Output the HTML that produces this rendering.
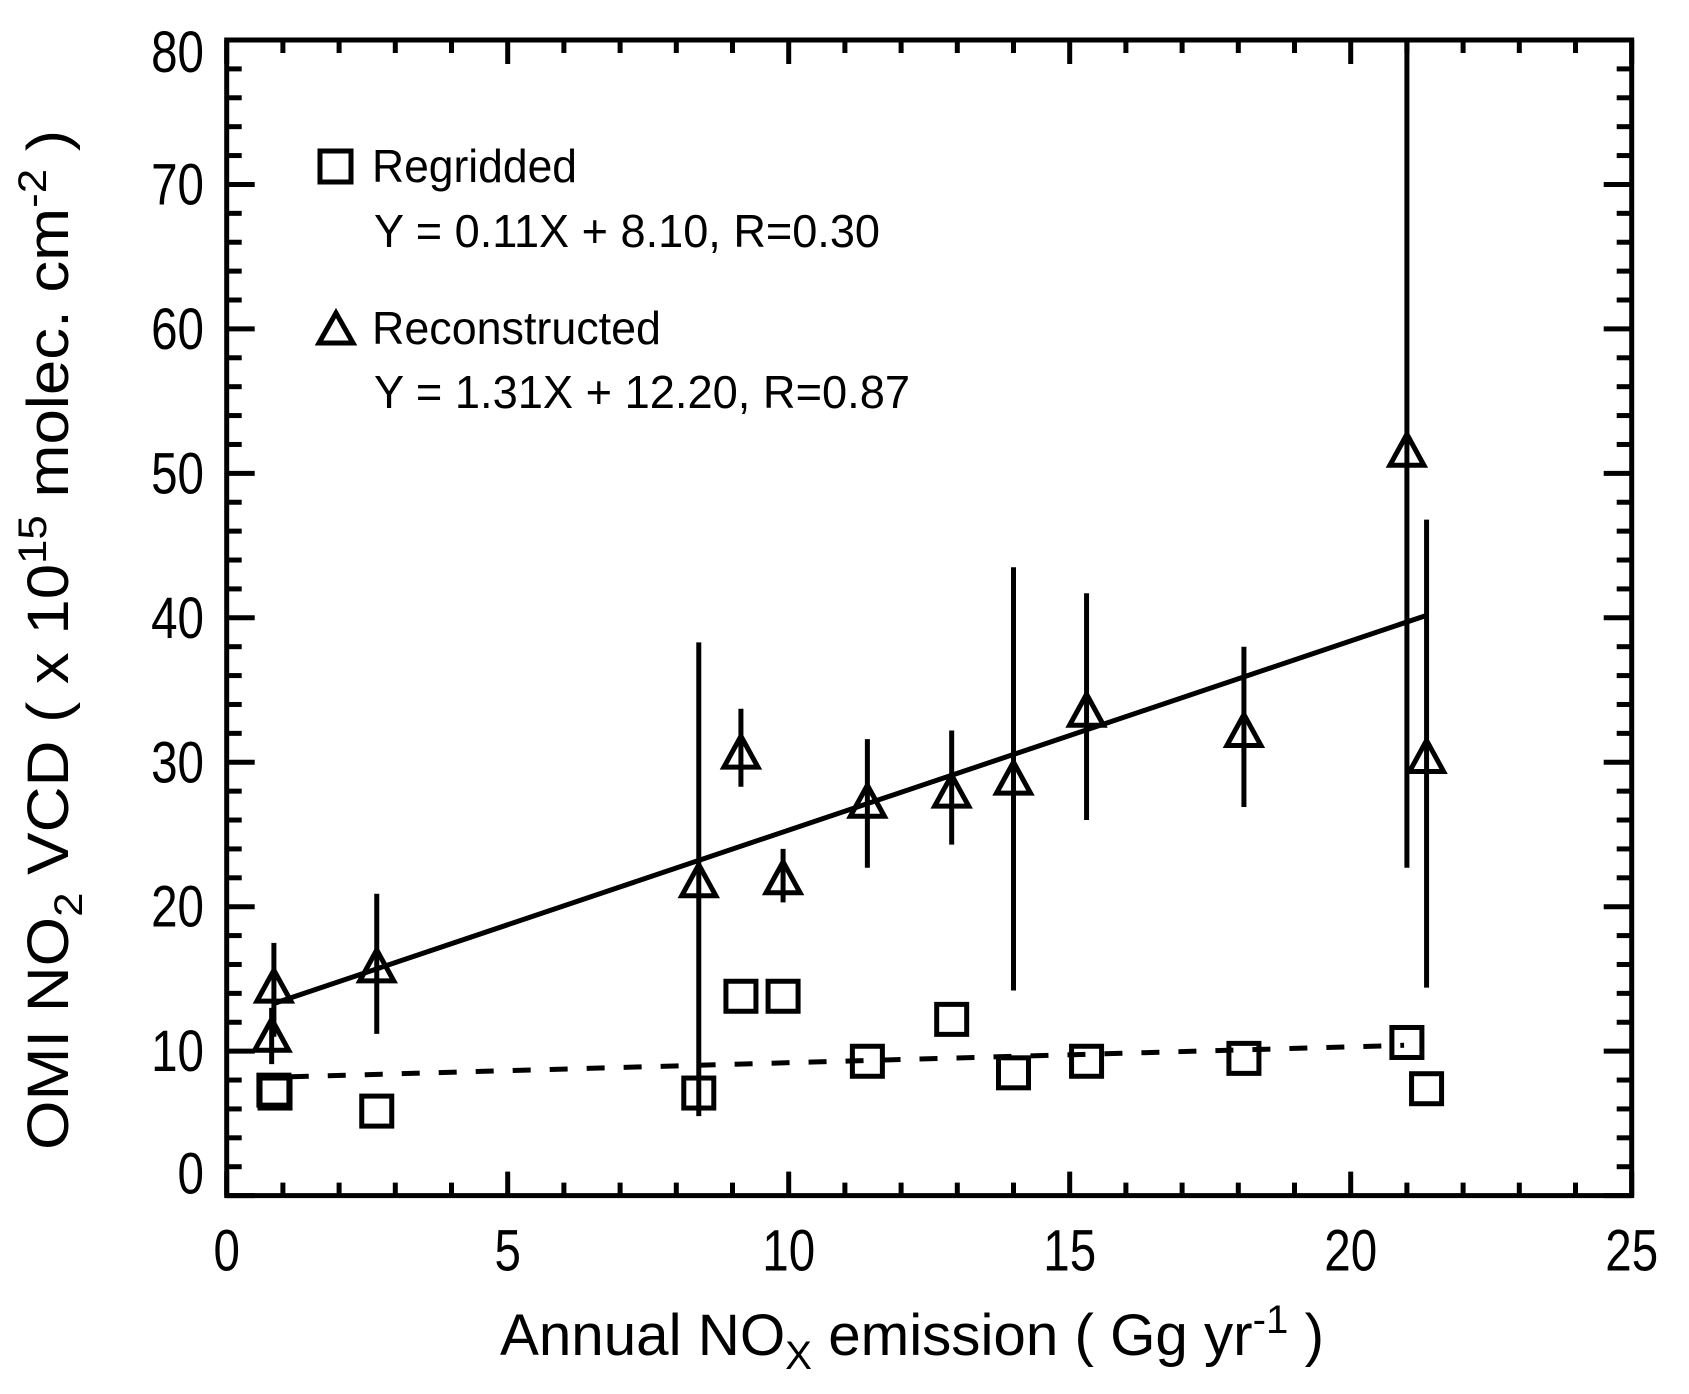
<!DOCTYPE html>
<html><head><meta charset="utf-8"><style>
html,body{margin:0;padding:0;background:#fff;}
svg{display:block;font-family:"Liberation Sans",Arial,sans-serif;}
</style></head><body>
<svg id="chart" width="1689" height="1394" viewBox="0 0 1689 1394">
<g id="grid"></g>
<g id="marks"></g>
<g id="legend">
  <rect x="320" y="151" width="31" height="31" fill="none" stroke="#000" stroke-width="5"/>
  <text x="372" y="182" font-size="46" textLength="205" lengthAdjust="spacingAndGlyphs">Regridded</text>
  <text x="374" y="247" font-size="46" textLength="506" lengthAdjust="spacingAndGlyphs">Y = 0.11X + 8.10, R=0.30</text>
  <polygon points="336,313 353,343 319,343" fill="none" stroke="#000" stroke-width="5"/>
  <text x="372" y="344" font-size="46" textLength="289" lengthAdjust="spacingAndGlyphs">Reconstructed</text>
  <text x="374" y="408" font-size="46" textLength="536" lengthAdjust="spacingAndGlyphs">Y = 1.31X + 12.20, R=0.87</text>
</g>
<text transform="translate(68,640) rotate(-90)" text-anchor="middle" font-size="58" textLength="1020" lengthAdjust="spacingAndGlyphs">OMI NO<tspan font-size="40" dy="14">2</tspan><tspan dy="-14"> VCD ( x 10</tspan><tspan font-size="40" dy="-22">15</tspan><tspan dy="22"> molec. cm</tspan><tspan font-size="40" dy="-22">-2</tspan><tspan dy="22"> )</tspan></text>
<text x="912" y="1355" text-anchor="middle" font-size="58" textLength="824" lengthAdjust="spacingAndGlyphs">Annual NO<tspan font-size="40" dy="14">X</tspan><tspan dy="-14"> emission ( Gg yr</tspan><tspan font-size="40" dy="-22">-1</tspan><tspan dy="22"> )</tspan></text>
</svg>
<script>
const xTicks = [0, 5, 10, 15, 20, 25];
const yTicks = [0, 10, 20, 30, 40, 50, 60, 70, 80];
const triX = [0.84, 0.80, 2.67, 8.4, 9.15, 9.9, 11.4, 12.9, 14.0, 15.3, 18.1, 21.0, 21.35];
const triY = [14.5, 11.1, 15.9, 21.8, 30.7, 22.0, 27.3, 28.0, 28.9, 33.6, 32.2, 51.6, 30.4];
const triLo = [11.0, 9.1, 11.2, 5.5, 28.3, 20.3, 22.7, 24.3, 14.2, 26.0, 26.9, 22.7, 14.4];
const triHi = [17.5, 13.0, 20.9, 38.3, 33.7, 24.0, 31.6, 32.2, 43.5, 41.7, 38.0, 80.0, 46.8];
const sqX = [0.84, 0.86, 2.67, 8.4, 9.15, 9.9, 11.4, 12.9, 14.0, 15.3, 18.1, 21.0, 21.35];
const sqY = [7.3, 7.1, 5.85, 7.1, 13.8, 13.8, 9.3, 12.2, 8.5, 9.3, 9.5, 10.6, 7.4];
const fitSolid = [1.31, 12.2];
const fitDash = [0.11, 8.10];
const fitRange = [0.84, 21.35];

const X0 = 226.7, X1 = 1631.7, Y0 = 1195.6, Y1 = 40;
const sx = v => X0 + (v - 0) / 25 * (X1 - X0);
const sy = v => Y0 - (v - 0) / 80 * (Y0 - Y1);
const NS = 'http://www.w3.org/2000/svg';
function mk(tag, attrs, parent) {
  const e = document.createElementNS(NS, tag);
  for (const k in attrs) e.setAttribute(k, attrs[k]);
  parent.appendChild(e);
  return e;
}
const grid = document.getElementById('grid');
const marks = document.getElementById('marks');

const frame = mk('rect', {x: X0, y: Y1, width: X1 - X0, height: Y0 - Y1, fill: 'none', stroke: '#000', 'stroke-width': 5}, grid);



for (let v = 0; v <= 25; v++) {
  const major = v % 5 === 0;
  const L = major ? 24 : 13;
  const t1 = mk('line', {x1: sx(v), x2: sx(v), y1: Y0, y2: Y0 - L, stroke: '#000', 'stroke-width': 5}, grid);
  
  
  const t2 = mk('line', {x1: sx(v), x2: sx(v), y1: Y1, y2: Y1 + L, stroke: '#000', 'stroke-width': 5}, grid);
  
  
}
xTicks.forEach(v => {
  const t = mk('text', {x: 0, y: 0, transform: `translate(${sx(v)},${Y0 + 75}) scale(0.82,1)`, 'text-anchor': 'middle', 'font-size': 58}, grid);
  t.textContent = v;
  
  
});
for (let v = 0; v <= 80; v += 2) {
  const major = v % 10 === 0;
  const L = major ? 28 : 15;
  const t1 = mk('line', {x1: X0, x2: X0 + L, y1: sy(v), y2: sy(v), stroke: '#000', 'stroke-width': 5}, grid);
  
  
  const t2 = mk('line', {x1: X1, x2: X1 - L, y1: sy(v), y2: sy(v), stroke: '#000', 'stroke-width': 5}, grid);
  
  
}
yTicks.forEach(v => {
  let yy = sy(v) + 20;
  if (v === 80) yy = sy(v) + 32;
  if (v === 0) yy = sy(v) - 2;
  const t = mk('text', {x: 0, y: 0, transform: `translate(204,${yy}) scale(0.82,1)`, 'text-anchor': 'end', 'font-size': 58}, grid);
  t.textContent = v;
  
  
});

const l1 = mk('line', {x1: sx(fitRange[0]), y1: sy(fitSolid[0] * fitRange[0] + fitSolid[1]), x2: sx(fitRange[1]), y2: sy(fitSolid[0] * fitRange[1] + fitSolid[1]), stroke: '#000', 'stroke-width': 5}, marks);


const l2 = mk('line', {x1: sx(fitRange[0] + 0.3), y1: sy(fitDash[0] * (fitRange[0] + 0.3) + fitDash[1]), x2: sx(fitRange[1] - 0.4), y2: sy(fitDash[0] * (fitRange[1] - 0.4) + fitDash[1]), stroke: '#000', 'stroke-width': 5, 'stroke-dasharray': '18 19'}, marks);



triX.forEach((x, i) => {
  const b = mk('line', {x1: sx(x), x2: sx(x), y1: sy(triLo[i]), y2: sy(triHi[i]), stroke: '#000', 'stroke-width': 5}, marks);
  
  
  const cx = sx(x), cy = sy(triY[i]);
  const p = mk('polygon', {points: `${cx},${cy - 16} ${cx + 17},${cy + 15} ${cx - 17},${cy + 15}`, fill: 'none', stroke: '#000', 'stroke-width': 5}, marks);
  
  
});
sqX.forEach((x, i) => {
  const s = mk('rect', {x: sx(x) - 15, y: sy(sqY[i]) - 15, width: 30, height: 30, fill: 'none', stroke: '#000', 'stroke-width': 5}, marks);
  
  
});
</script>
</body></html>
